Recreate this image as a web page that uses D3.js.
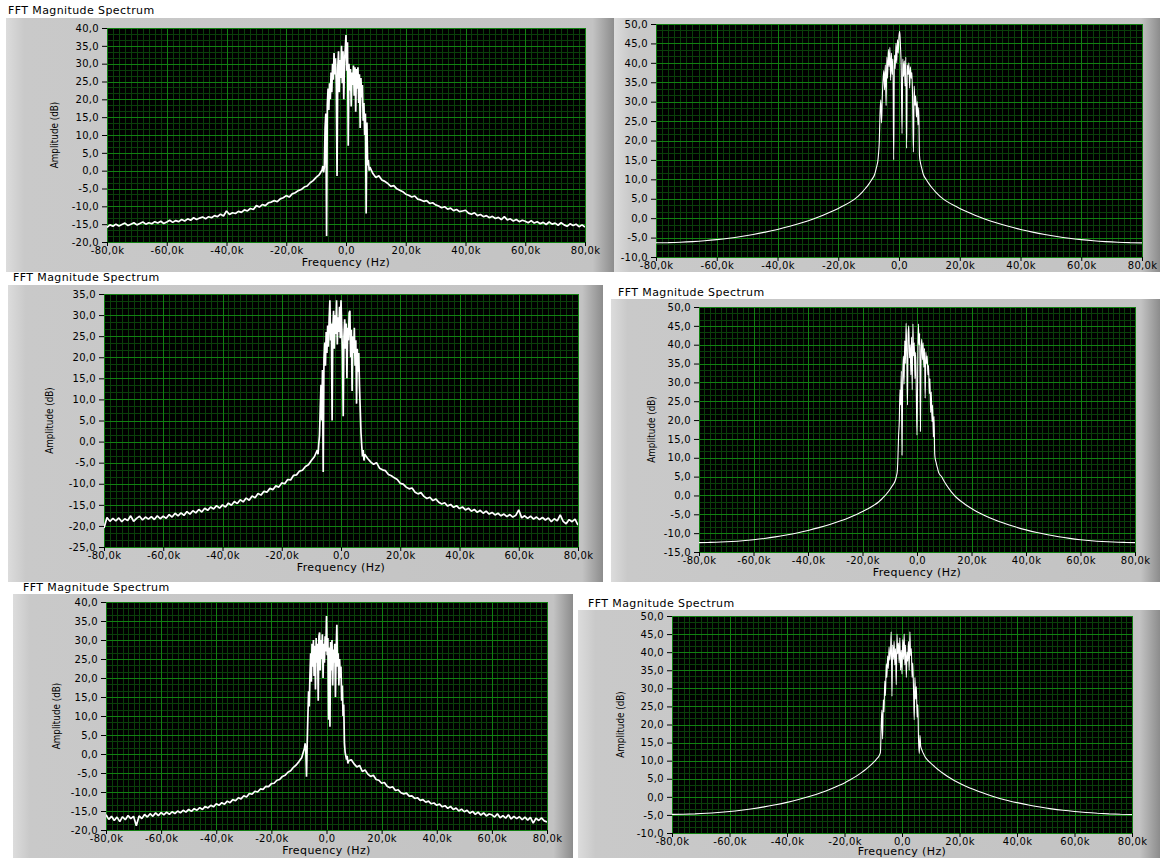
<!DOCTYPE html>
<html>
<head>
<meta charset="utf-8">
<script src="https://cdn.jsdelivr.net/npm/d3@7"></script>
<style>
  body { margin: 0; background: #fff; }
  svg { display: block; }
  text { font-family: "DejaVu Sans", Verdana, sans-serif; font-size: 10px; fill: #000; letter-spacing: 0.3px; }
  text.title, text.x-title { font-size: 11px; letter-spacing: 0.4px; }
  text.y-title { font-family: "Liberation Sans Narrow", "DejaVu Sans Condensed", sans-serif; font-size: 9.8px; letter-spacing: 0; }
</style>
</head>
<body>
<svg id="chart" width="1160" height="858"></svg>
<script>
// frequency bins in kHz (tails coarser than the central band)
const noisyLeftKHz = d3.range(-80, -8, 1);
const bandKHz = d3.range(-32, 33).map(i => i / 4);
const noisyRightKHz = d3.range(9, 81, 1);
const smoothLeftKHz = [-80, -76, -72, -68, -64, -60, -56, -52, -48, -44, -40, -36, -32, -28, -25, -22, -20, -18, -16, -14, -13, -12, -11, -10, -9];
const smoothRightKHz = [9, 10, 11, 12, 13, 14, 16, 18, 20, 22, 25, 28, 32, 36, 40, 44, 48, 52, 56, 60, 64, 68, 72, 76, 80];

const xTicks = [-80000, -60000, -40000, -20000, 0, 20000, 40000, 60000, 80000];

// panel 1 (top left)
const p1Left = [-15.9,-15.2,-15.6,-15.0,-15.5,-15.1,-14.7,-15.4,-15.0,-14.6,
  -15.2,-14.8,-14.4,-15.0,-14.6,-14.9,-14.3,-14.7,-14.2,-14.8,
  -14.4,-13.9,-14.5,-14.0,-14.3,-13.7,-14.1,-13.5,-13.9,-13.2,
  -13.7,-13.3,-13.0,-13.5,-12.9,-13.2,-12.6,-12.9,-12.2,-12.7,
  -11.3,-12.3,-11.8,-12.0,-11.4,-11.7,-11.0,-11.3,-10.6,-10.9,
  -9.8,-10.2,-9.5,-9.8,-9.0,-8.8,-8.4,-8.7,-7.9,-7.6,
  -7.0,-7.4,-6.5,-6.2,-5.6,-5.3,-4.6,-4.3,-3.4,-2.8,
  -1.9,-1.2];
const p1Band = [0.2,1.3,-0.5,1.0, 12.0,16.0,-18.3,18.5, 23.0,17.0,24.5,20.0, 27.5,22.0,30.0,25.5,
  33.0,27.0,31.5,24.0, -1.5,29.0,33.5,22.0, 31.0,26.0,35.0,24.5, 33.5,20.0,30.5,34.0,
  38.0,28.0,36.0,7.0, 30.0,22.5,28.5,18.0, 27.5,24.0,29.5,21.0, 29.0,16.5,28.5,23.0,
  29.0,19.0,27.0,12.0, 26.0,20.5,24.0,14.0, 19.0,10.0,16.0,-12.0, 13.5,1.5,3.0,0.0, 1.0];
const p1Right = [-0.8,-1.9,-1.4,-2.6,-3.0,-3.6,-4.4,-4.2,-5.1,-5.5,
  -5.9,-6.6,-6.9,-7.4,-7.1,-8.0,-8.2,-8.6,-8.4,-9.2,
  -9.0,-9.6,-9.9,-10.4,-10.1,-10.8,-10.5,-11.2,-10.9,-11.5,
  -11.3,-11.1,-11.9,-12.2,-11.8,-12.6,-12.3,-12.9,-12.6,-13.2,
  -12.8,-13.4,-13.1,-13.7,-12.9,-13.8,-13.5,-14.1,-13.7,-14.3,
  -13.9,-14.2,-14.6,-14.0,-14.7,-14.3,-14.9,-14.5,-15.1,-14.4,
  -15.0,-14.7,-15.3,-14.6,-15.2,-15.6,-14.9,-15.4,-15.0,-15.7,
  -15.2,-15.8];

// panel 2 (top right)
const p2Left = [-6.35,-6.3,-6.2,-6.04,-5.82,-5.53,-5.17,-4.73,-4.21,-3.6,-2.9,-2.1,-1.19,-0.15,0.75,1.75,2.5,3.3,4.2,5.3,6.0,6.8,7.7,8.7,9.9];
const p2Band = [11.3,12.0,12.8,13.6, 14.5,16.5,19.5,27.0, 30.5,24.5,31.0,35.5, 38.0,33.0,39.5,29.0,
  41.5,36.0,43.5,39.0, 44.0,35.5,42.5,37.0, 41.0,15.0,42.0,38.5, 45.0,40.0,46.0,42.5,
  47.0,48.1,44.0,38.0, 21.8,41.0,36.5,40.5, 34.0,41.5,18.0,39.5, 37.0,40.0,33.5,39.0,
  36.0,37.5,30.0,17.0, 34.0,29.0,31.5,26.0, 30.0,24.0,28.5,16.0, 14.5,13.6,12.8,12.0, 11.3];
const p2Right = [9.9,8.7,7.7,6.8,6.0,5.3,4.2,3.3,2.5,1.75,0.75,-0.15,-1.19,-2.1,-2.9,-3.6,-4.21,-4.73,-5.17,-5.53,-5.82,-6.04,-6.2,-6.3,-6.35];

// panel 3 (middle left)
const p3Left = [-20.5,-18.0,-18.9,-18.2,-18.8,-18.1,-19.0,-18.3,-18.7,-17.6,
  -18.9,-18.2,-17.7,-18.6,-17.9,-18.4,-17.8,-18.5,-17.6,-18.3,
  -17.7,-18.2,-17.3,-17.9,-17.0,-17.6,-16.9,-17.5,-16.6,-17.2,
  -16.4,-16.9,-16.1,-16.7,-15.8,-16.3,-15.5,-16.0,-15.2,-15.8,
  -15.0,-15.5,-14.6,-15.1,-14.2,-14.7,-13.8,-14.3,-13.4,-13.9,
  -12.9,-13.3,-12.3,-12.7,-11.8,-12.0,-11.1,-11.4,-10.5,-10.8,
  -9.8,-10.0,-9.0,-9.1,-8.0,-7.9,-7.0,-6.8,-5.9,-5.5,
  -4.5,-3.6];
const p3Band = [-2.0,-3.0,-0.5,1.5, 8.0,13.5,5.0,17.0, -7.2,19.5,23.5,18.0, 26.0,21.0,27.5,22.5,
  29.0,33.5,24.0,28.0, 5.0,27.0,31.0,22.0, 30.0,25.5,33.5,23.0, 29.5,26.0,32.0,24.5,
  33.5,27.0,20.5,6.0, 25.0,29.0,22.0,28.0, 15.0,27.0,24.0,30.5, 31.0,20.0,26.5,12.0,
  25.0,21.0,27.0,18.0, 24.0,9.0,22.0,16.5, 21.0,13.0,7.5,2.0, -1.0,-3.5,-2.0,-4.5, -3.0];
const p3Right = [-4.0,-4.8,-5.4,-5.0,-6.3,-6.7,-6.9,-7.8,-8.1,-8.6,
  -9.0,-9.9,-10.1,-10.8,-11.2,-11.0,-12.0,-12.4,-12.1,-13.0,
  -13.5,-13.2,-14.0,-13.6,-14.4,-14.8,-14.5,-15.3,-14.9,-15.6,
  -15.2,-15.9,-15.5,-16.2,-15.8,-16.5,-16.1,-16.8,-16.3,-17.0,
  -16.5,-17.2,-16.8,-17.4,-17.0,-17.6,-17.2,-17.8,-17.3,-17.9,
  -17.5,-16.2,-18.1,-17.6,-18.2,-17.7,-18.4,-17.9,-18.5,-18.0,
  -18.6,-18.1,-19.0,-18.3,-18.8,-17.4,-18.9,-19.5,-18.5,-19.0,
  -18.4,-19.8];

// panel 4 (middle right)
const p4Left = [-12.5,-12.45,-12.36,-12.21,-12.0,-11.73,-11.4,-10.99,-10.5,-9.94,-9.28,-8.54,-7.7,-6.73,-5.89,-4.96,-4.26,-3.52,-2.68,-1.66,-1.0,-0.26,0.58,1.51,2.63];
const p4Band = [3.9,4.5,5.3,6.3, 10.0,16.0,19.6,28.0, 24.0,33.0,10.7,31.0, 37.0,29.5,41.0,35.0,
  45.7,38.0,24.0,43.0, 45.0,36.5,40.0,32.0, 42.0,28.0,45.5,37.0, 40.5,31.0,38.0,27.0,
  16.0,33.0,45.5,40.0, 43.0,17.0,38.5,41.5, 36.0,40.5,34.0,39.0, 25.8,38.0,35.0,37.0,
  32.0,34.5,27.0,31.0, 22.0,27.5,19.6,24.0, 15.5,21.0,11.0,9.5, 8.8,8.0,7.3,6.6, 6.0];
const p4Right = [5.03,3.71,2.58,1.54,0.6,-0.21,-1.48,-2.52,-3.46,-4.31,-5.39,-6.33,-7.4,-8.32,-9.13,-9.84,-10.44,-10.96,-11.39,-11.73,-12.0,-12.21,-12.36,-12.45,-12.5];

// panel 5 (bottom left)
const p5Left = [-16.0,-17.2,-16.4,-17.5,-16.6,-17.8,-16.5,-17.3,-16.2,-17.0,
  -16.4,-18.9,-16.3,-17.0,-15.9,-16.6,-15.7,-16.4,-15.5,-16.2,
  -15.4,-16.0,-15.3,-15.9,-15.2,-15.7,-15.0,-15.5,-14.8,-15.3,
  -14.6,-15.1,-14.4,-14.8,-14.1,-14.6,-13.8,-14.2,-13.5,-13.9,
  -13.1,-13.5,-12.8,-13.2,-12.4,-12.8,-12.0,-12.3,-11.5,-11.8,
  -11.0,-11.3,-10.4,-10.6,-9.8,-10.0,-9.2,-9.3,-8.5,-8.6,
  -7.8,-7.7,-6.9,-6.7,-5.9,-5.6,-4.8,-4.4,-3.5,-2.9,
  -2.0,-1.0];
const p5Band = [1.5,2.8,0.8,-6.0, 3.0,10.0,16.5,12.5, 21.0,26.5,19.0,29.0, 23.0,30.0,20.5,28.5,
  17.0,30.5,24.0,29.0, 14.0,31.0,32.0,22.0, 30.0,25.0,31.5,20.0, 29.0,24.0,31.0,27.0,
  36.3,26.0,30.5,9.0, 28.0,7.2,29.5,22.0, 30.0,18.0,27.5,24.0, 29.0,15.0,27.0,34.0,
  23.0,26.5,18.0,25.0, 20.0,23.0,14.0,18.0, 10.0,13.0,3.0,0.5, -0.5,-1.5,-0.5,-2.5, -1.8];
const p5Right = [-1.5,-2.6,-3.4,-3.0,-4.6,-4.2,-5.3,-5.9,-5.6,-6.7,
  -6.9,-7.7,-7.5,-8.5,-8.9,-8.6,-9.6,-9.4,-10.2,-10.5,
  -10.3,-11.1,-11.0,-11.7,-11.5,-12.2,-12.0,-12.7,-12.4,-13.1,
  -12.9,-13.5,-13.2,-13.9,-13.6,-14.3,-13.8,-14.6,-14.2,-15.0,
  -14.5,-15.2,-14.8,-15.6,-15.1,-15.9,-15.3,-16.1,-15.5,-16.3,
  -15.8,-16.0,-16.6,-15.7,-16.8,-16.2,-16.9,-16.0,-17.1,-16.4,
  -17.0,-16.5,-17.3,-16.6,-17.4,-16.7,-18.2,-16.9,-17.5,-16.8,
  -17.6,-17.9];

// panel 6 (bottom right)
const p6Left = [-4.85,-4.8,-4.7,-4.55,-4.33,-4.05,-3.7,-3.28,-2.78,-2.2,-1.53,-0.75,0.15,1.2,2.1,3.1,3.85,4.7,5.65,6.75,7.35,8.0,8.7,9.45,10.3];
const p6Band = [11.3,11.7,12.3,19.0, 24.0,16.0,26.8,23.5, 32.0,28.0,36.8,33.0, 39.0,35.5,41.5,37.8,
  40.0,45.6,27.8,42.0, 38.0,43.0,36.5,41.0, 31.0,45.0,39.5,42.5, 37.0,44.0,35.0,40.5,
  34.0,43.5,38.0,45.0, 36.5,42.0,33.0,40.0, 37.5,43.0,35.0,45.6, 39.0,41.0,33.0,37.0,
  30.0,21.3,33.0,27.0, 30.5,22.0,25.5,15.8, 12.0,17.0,14.0,13.3, 12.8,12.3,11.9,11.5, 11.1];
const p6Right = [10.1,9.3,8.6,7.9,7.25,6.65,5.55,4.6,3.75,3.0,2.0,1.1,0.05,-0.85,-1.6,-2.27,-2.83,-3.32,-3.73,-4.07,-4.35,-4.56,-4.72,-4.82,-4.87];

// join bins and amplitudes into {hz, db} points
function toPoints(freqParts, ampParts) {
  let pts = [];
  freqParts.forEach((fs, i) => {
    fs.forEach((f, j) => pts.push({ hz: f * 1000, db: ampParts[i][j] }));
  });
  return pts;
}

const fmtY = v => v.toFixed(1).replace('.', ',');
const fmtX = v => v === 0 ? '0,0' : (v / 1000).toFixed(1).replace('.', ',') + 'k';

const svg = d3.select('#chart');
const defs = svg.append('defs');
const grad = defs.append('linearGradient').attr('id', 'frameGrad');
[[0, '#dcdcdc'], [0.03, '#c9c9c9'], [0.965, '#c3c3c3'], [1, '#8c8c8c']].forEach(s =>
  grad.append('stop').attr('offset', s[0]).attr('stop-color', s[1]));

let clipCount = 0;

class Spectrum {

  constructor(_config, _data) {
    this.config = {
      parentElement: _config.parentElement,
      frame: _config.frame,
      plot: _config.plot,
      yDomain: _config.yDomain,
      title: _config.title || null,
      yTitleX: _config.yTitleX || null,
      xTitleDy: _config.xTitleDy || 24,
      showXTitle: _config.showXTitle !== false,
      smooth: _config.smooth || false
    }
    this.data = _data;
    this.initVis();
  }

  initVis() {
    let vis = this;
    const c = vis.config;

    vis.id = clipCount++;
    defs.append('clipPath').attr('id', `frame${vis.id}`)
      .append('rect').attr('x', c.frame.x).attr('y', c.frame.y).attr('width', c.frame.w).attr('height', c.frame.h);
    defs.append('clipPath').attr('id', `plot${vis.id}`)
      .append('rect').attr('width', c.plot.w).attr('height', c.plot.h);

    vis.xScale = d3.scaleLinear().domain([-80000, 80000]).range([0, c.plot.w]);
    vis.yScale = d3.scaleLinear().domain(c.yDomain).range([c.plot.h, 0]);

    vis.xAxis = d3.axisBottom(vis.xScale)
        .tickValues(xTicks)
        .tickSize(4)
        .tickPadding(1)
        .tickFormat(fmtX);

    vis.yAxis = d3.axisLeft(vis.yScale)
        .tickValues(d3.range(c.yDomain[0], c.yDomain[1] + 1, 5))
        .tickSize(5)
        .tickPadding(3)
        .tickFormat(fmtY);

    if (c.title) {
      c.parentElement.append('text')
          .attr('class', 'title')
          .attr('x', c.title.x).attr('y', c.title.y)
          .text('FFT Magnitude Spectrum');
    }

    vis.panel = c.parentElement.append('g').attr('clip-path', `url(#frame${vis.id})`);
    vis.panel.append('rect')
        .attr('x', c.frame.x).attr('y', c.frame.y)
        .attr('width', c.frame.w).attr('height', c.frame.h)
        .attr('fill', 'url(#frameGrad)');

    vis.chart = vis.panel.append('g')
        .attr('transform', `translate(${c.plot.x},${c.plot.y})`);

    vis.chart.append('rect').attr('width', c.plot.w).attr('height', c.plot.h).attr('fill', '#000');

    vis.gridG = vis.chart.append('g');

    vis.xAxisG = vis.chart.append('g')
        .attr('class', 'axis x-axis')
        .attr('transform', `translate(0,${c.plot.h})`);

    vis.yAxisG = vis.chart.append('g')
        .attr('class', 'axis y-axis');

    if (c.showXTitle) {
      vis.chart.append('text')
          .attr('class', 'x-title')
          .attr('x', c.plot.w / 2).attr('y', c.plot.h + c.xTitleDy)
          .attr('text-anchor', 'middle')
          .text('Frequency (Hz)');
    }
    if (c.yTitleX) {
      vis.panel.append('text')
          .attr('class', 'y-title')
          .attr('transform', `translate(${c.yTitleX},${c.plot.y + c.plot.h / 2}) rotate(-90)`)
          .attr('text-anchor', 'middle')
          .attr('dy', '0.35em')
          .text('Amplitude (dB)');
    }

    this.updateVis();
  }

  updateVis() {
    let vis = this;
    const [y0, y1] = vis.config.yDomain;
    vis.xMinor = d3.range(-80000, 80001, 2000);
    vis.yMinor = d3.range(0, (y1 - y0) / 5 * 3 + 1).map(i => y0 + i * 5 / 3);
    vis.yMajor = d3.range(y0, y1 + 1, 5);

    vis.line = d3.line()
        .x(d => vis.xScale(d.hz))
        .y(d => vis.yScale(d.db))
        .curve(vis.config.smooth ? d3.curveMonotoneX : d3.curveLinear);

    this.renderVis();
  }

  renderVis() {
    let vis = this;
    const w = vis.config.plot.w, h = vis.config.plot.h;
    const px = v => Math.round(v) + 0.5;

    // minor grid
    vis.gridG.selectAll('.vminor').data(vis.xMinor).join('line')
        .attr('class', 'vminor')
        .attr('x1', d => px(vis.xScale(d))).attr('x2', d => px(vis.xScale(d)))
        .attr('y1', 0).attr('y2', h)
        .attr('stroke', '#0a3f0a');
    vis.gridG.selectAll('.hminor').data(vis.yMinor).join('line')
        .attr('class', 'hminor')
        .attr('y1', d => px(vis.yScale(d))).attr('y2', d => px(vis.yScale(d)))
        .attr('x1', 0).attr('x2', w)
        .attr('stroke', '#0a3f0a');
    // major grid
    vis.gridG.selectAll('.vmajor').data(xTicks).join('line')
        .attr('class', 'vmajor')
        .attr('x1', d => px(vis.xScale(d))).attr('x2', d => px(vis.xScale(d)))
        .attr('y1', 0).attr('y2', h)
        .attr('stroke', '#118011');
    vis.gridG.selectAll('.hmajor').data(vis.yMajor).join('line')
        .attr('class', 'hmajor')
        .attr('y1', d => px(vis.yScale(d))).attr('y2', d => px(vis.yScale(d)))
        .attr('x1', 0).attr('x2', w)
        .attr('stroke', '#118011');

    // spectrum trace
    vis.chart.append('path')
        .data([vis.data])
        .attr('class', 'chart-line')
        .attr('clip-path', `url(#plot${vis.id})`)
        .attr('fill', 'none')
        .attr('stroke', '#fff')
        .attr('stroke-width', vis.config.smooth ? 1.1 : 1.7)
        .attr('stroke-linejoin', 'bevel')
        .attr('d', vis.line);

    vis.xAxisG.call(vis.xAxis);
    vis.yAxisG.call(vis.yAxis);
    vis.chart.selectAll('.axis .domain').remove();
  }
}

const root = svg.append('g');
const noisy = [noisyLeftKHz, bandKHz, noisyRightKHz];
const smooth = [smoothLeftKHz, bandKHz, smoothRightKHz];

new Spectrum({ parentElement: root, frame: { x: 6, y: 18, w: 608, h: 254 }, plot: { x: 107, y: 28, w: 478, h: 214 },
  yDomain: [-20, 40], title: { x: 8, y: 14 }, yTitleX: 55 }, toPoints(noisy, [p1Left, p1Band, p1Right]));
new Spectrum({ parentElement: root, frame: { x: 614, y: 18, w: 546, h: 254 }, plot: { x: 656, y: 24, w: 486, h: 233 },
  yDomain: [-10, 50], showXTitle: false, smooth: true }, toPoints(smooth, [p2Left, p2Band, p2Right]));
new Spectrum({ parentElement: root, frame: { x: 8, y: 285, w: 595, h: 297 }, plot: { x: 104, y: 294, w: 474, h: 253 },
  yDomain: [-25, 35], title: { x: 13, y: 281 }, yTitleX: 50 }, toPoints(noisy, [p3Left, p3Band, p3Right]));
new Spectrum({ parentElement: root, frame: { x: 611, y: 299, w: 549, h: 283 }, plot: { x: 699, y: 307, w: 436, h: 245 },
  yDomain: [-15, 50], title: { x: 618, y: 296 }, yTitleX: 652, smooth: true }, toPoints(smooth, [p4Left, p4Band, p4Right]));
new Spectrum({ parentElement: root, frame: { x: 13, y: 594, w: 560, h: 264 }, plot: { x: 106, y: 602, w: 441, h: 228 },
  yDomain: [-20, 40], title: { x: 23, y: 591 }, yTitleX: 57 }, toPoints(noisy, [p5Left, p5Band, p5Right]));
new Spectrum({ parentElement: root, frame: { x: 578, y: 610, w: 582, h: 248 }, plot: { x: 672, y: 616, w: 460, h: 217 },
  yDomain: [-10, 50], title: { x: 588, y: 607 }, yTitleX: 621, xTitleDy: 22, smooth: true }, toPoints(smooth, [p6Left, p6Band, p6Right]));
</script>
</body>
</html>
